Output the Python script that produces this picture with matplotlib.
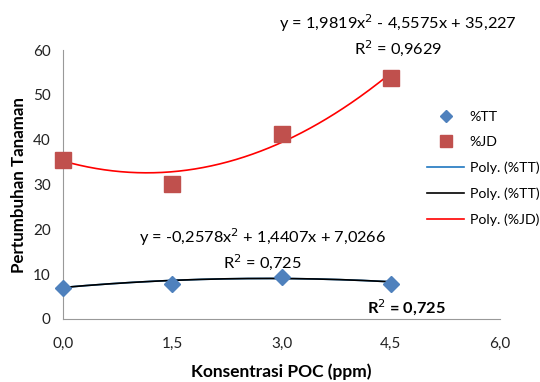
import numpy as np
import matplotlib.pyplot as plt

plt.rcParams['font.family'] = ['Lato', 'DejaVu Sans']

# Konsentrasi POC (ppm)
konsentrasi = [0.0, 1.5, 3.0, 4.5]
# persentase pertumbuhan
tt = [7.0, 7.8, 9.3, 7.8]
jd = [35.5, 30.2, 41.3, 53.8]

# koefisien trendline polinomial orde 2 (a, b, c)
coef_tt = [-0.2578, 1.4407, 7.0266]
coef_jd = [1.9819, -4.5575, 35.227]

xticks = [0.0, 1.5, 3.0, 4.5, 6.0]
yticks = [0, 10, 20, 30, 40, 50, 60]

fig = plt.figure(figsize=(5.4, 3.82), dpi=100)
ax = fig.add_axes([0.117, 0.165, 0.809, 0.704])

xs = np.linspace(0, 4.5, 200)
ax.plot(konsentrasi, tt, 'D', color='#4F81BD', markersize=8, label='%TT', zorder=3, clip_on=False)
ax.plot(konsentrasi, jd, 's', color='#C0504D', markersize=11, label='%JD', zorder=3, clip_on=False)
ax.plot(xs, np.polyval(coef_tt, xs), color='#1F77C0', lw=1.2, label='Poly. (%TT)')
ax.plot(xs, np.polyval(coef_tt, xs), color='black', lw=1.2, label='Poly. (%TT)')
ax.plot(xs, np.polyval(coef_jd, xs), color='#FF0000', lw=1.2, label='Poly. (%JD)')

ax.set_xlim(0, 6)
ax.set_ylim(0, 60)
ax.set_xticks(xticks)
ax.set_xticklabels([f'{v:.1f}'.replace('.', ',') for v in xticks])
ax.set_yticks(yticks)
ax.tick_params(length=0, labelsize=11, pad=9, colors='#222222')
ax.tick_params(axis='x', pad=13)
for s in ['top', 'right']:
    ax.spines[s].set_visible(False)
for s in ['left', 'bottom']:
    ax.spines[s].set_color('#999999')

ax.set_xlabel('Konsentrasi POC (ppm)', fontsize=12.5, fontweight='bold', labelpad=9)
ax.set_ylabel('Pertumbuhan Tanaman', fontsize=12.2, fontweight='bold', labelpad=4)

ax.text(4.6, 66.0, 'y = 1,9819x$^2$ - 4,5575x + 35,227', ha='center', va='center', fontsize=11.8, clip_on=False)
ax.text(4.6, 60.5, 'R$^2$ = 0,9629', ha='center', va='center', fontsize=11.8, clip_on=False)
ax.text(2.74, 18.2, 'y = -0,2578x$^2$ + 1,4407x + 7,0266', ha='center', va='center', fontsize=11.8)
ax.text(2.74, 12.8, 'R$^2$ = 0,725', ha='center', va='center', fontsize=11.8)
ax.text(4.72, 2.4, 'R$^2$ = 0,725', ha='center', va='center', fontsize=11.8, fontweight='bold')

fig.legend(*ax.get_legend_handles_labels(), loc='upper left', bbox_to_anchor=(0.791, 0.71),
           frameon=False, fontsize=10.2, borderpad=0, borderaxespad=0, markerscale=0.75,
           handlelength=2.6, labelspacing=0.95, handletextpad=0.4)

fig.savefig('out.png', dpi=100)
